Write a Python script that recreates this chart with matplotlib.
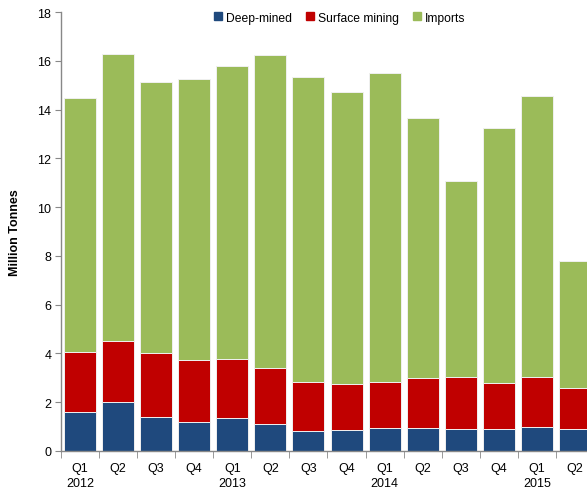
import numpy as np
import matplotlib.pyplot as plt
from matplotlib.lines import Line2D

plt.rcParams['font.family'] = ['Liberation Sans', 'DejaVu Sans']

# ── Data (million tonnes) ─────────────────────────────────────
quarters = ['Q1', 'Q2', 'Q3', 'Q4', 'Q1', 'Q2', 'Q3', 'Q4',
            'Q1', 'Q2', 'Q3', 'Q4', 'Q1', 'Q2']
years    = ['2012', '', '', '', '2013', '', '', '',
            '2014', '', '', '', '2015', '']
deep     = [1.59, 1.99, 1.41, 1.19, 1.36, 1.12, 0.80, 0.84,
            0.95, 0.95, 0.92, 0.92, 1.00, 0.89]
surface_top = [4.05, 4.50, 4.00, 3.72, 3.77, 3.40, 2.81, 2.74,
               2.83, 3.01, 3.03, 2.78, 3.03, 2.57]
totals   = [14.46, 16.29, 15.11, 15.24, 15.78, 16.23, 15.32, 14.72,
            15.48, 13.64, 11.07, 13.24, 14.54, 7.77]

surface = np.array(surface_top) - np.array(deep)
imports = np.array(totals) - np.array(surface_top)

C_DEEP, C_SURF, C_IMP = '#1F497D', '#C00000', '#9BBB59'

# ── Plot ──────────────────────────────────────────────────────
fig = plt.figure(figsize=(5.87, 4.89), dpi=100)
ax = fig.add_axes([0.1039, 0.0757, 0.908, 0.8977])

x = np.arange(len(quarters))
w = 0.84
edge = dict(edgecolor='#f0f0f0', linewidth=0.7)
ax.bar(x, deep, w, color=C_DEEP, **edge)
ax.bar(x, surface, w, bottom=deep, color=C_SURF, **edge)
ax.bar(x, imports, w, bottom=surface_top, color=C_IMP, **edge)

ax.set_xlim(-0.5, len(quarters) - 0.5)
ax.set_ylim(0, 18)
ax.set_yticks(np.arange(0, 19, 2))
ax.tick_params(axis='y', direction='out', length=4, color='#888888',
               labelsize=9, pad=3)

# category labels centred, tick marks at bar boundaries
ax.set_xticks(x)
ax.set_xticklabels([f'{q}\n{y}' for q, y in zip(quarters, years)],
                   fontsize=9, linespacing=1.35, va='top')
ax.tick_params(axis='x', length=0, pad=8)
ax.set_xticks(np.arange(-0.5, len(quarters)), minor=True)
ax.tick_params(axis='x', which='minor', direction='out', length=5, color='#888888')

for s in ['top', 'right']:
    ax.spines[s].set_visible(False)
for s in ['left', 'bottom']:
    ax.spines[s].set_color('#888888')
    ax.spines[s].set_linewidth(1.0)

ax.set_ylabel('Million Tonnes', fontsize=9, fontweight='bold', labelpad=12)

handles = [Line2D([], [], marker='s', linestyle='none', markersize=6,
                  markerfacecolor=c, markeredgecolor=c)
           for c in (C_DEEP, C_SURF, C_IMP)]
fig.legend(handles, ['Deep-mined', 'Surface mining', 'Imports'],
           loc='center', bbox_to_anchor=(0.577, 0.962), ncol=3, frameon=False,
           fontsize=8.7, handletextpad=0.15, columnspacing=1.0, handlelength=1.0)

plt.savefig('out.png', dpi=100)
